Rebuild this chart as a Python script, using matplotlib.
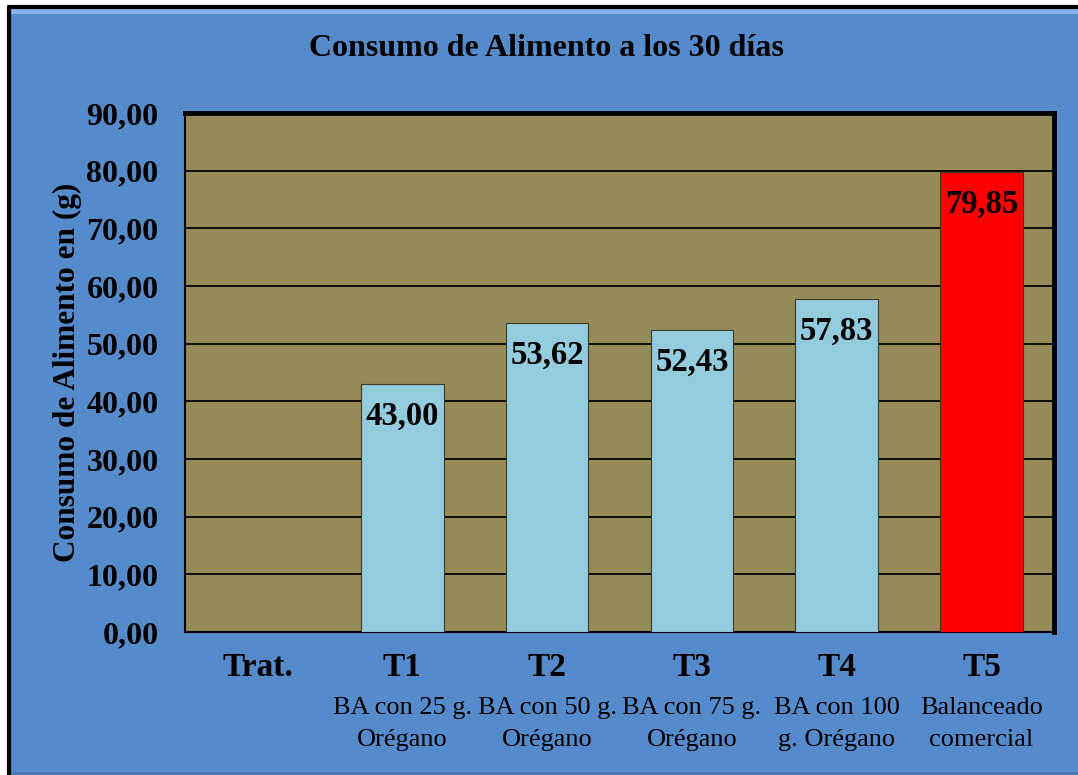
import matplotlib
matplotlib.use("Agg")
import matplotlib.pyplot as plt
from matplotlib.patches import Rectangle
import matplotlib.transforms as mtransforms

# data
categorias = ["Trat.", "T1", "T2", "T3", "T4", "T5"]
descripciones = ["", "BA con 25 g.\nOrégano", "BA con 50 g.\nOrégano",
                 "BA con 75 g.\nOrégano", "BA con 100\ng. Orégano",
                 "Balanceado\ncomercial"]
consumo = [None, 43.00, 53.62, 52.43, 57.83, 79.85]
colores = [None, "#93CDDD", "#93CDDD", "#93CDDD", "#93CDDD", "#FF0000"]
yticks = [0, 10, 20, 30, 40, 50, 60, 70, 80, 90]

plt.rcParams["font.family"] = ["Liberation Serif", "DejaVu Serif"]

W, H = 1078, 775
fig = plt.figure(figsize=(W / 100, H / 100), dpi=100)
fig.patch.set_facecolor("white")

# chart area background with black frame on top/left and a light bevel
fig.patches.append(Rectangle((7 / W, -0.01), 1.0, (H - 5) / H + 0.01, transform=fig.transFigure,
                             facecolor="#558ACB", edgecolor="none", zorder=-3))
fig.patches.append(Rectangle((10 / W, (H - 14) / H), 1.0, 5 / H, transform=fig.transFigure,
                             facecolor="#86B3EA", edgecolor="none", zorder=-2))
fig.patches.append(Rectangle((10 / W, 0), 1.0, 3 / H, transform=fig.transFigure,
                             facecolor="#4A78B4", edgecolor="none", zorder=-2))
fig.lines.append(plt.Line2D([8.5 / W, 8.5 / W, 1.0], [0, (H - 6.5) / H, (H - 6.5) / H],
                            transform=fig.transFigure, color="black", linewidth=3, zorder=-1))

ax = fig.add_axes([185 / W, (H - 632) / H, (1054 - 185) / W, (632 - 113) / H])
ax.set_zorder(5)
ax.set_facecolor("#968A56")

for i, (v, c) in enumerate(zip(consumo, colores)):
    if v is None:
        continue
    ax.bar(i, v, width=0.57, color=c, edgecolor="#3a3a2a", linewidth=0.8, zorder=3)
    ax.annotate(f"{v:.2f}".replace(".", ","), (i, v), xytext=(0, -23.5),
                textcoords="offset points", ha="center", va="center",
                fontsize=23.5, fontweight="bold", zorder=4)

ax.set_xlim(-0.5, len(categorias) - 0.5)
ax.set_ylim(0, 90)
ax.set_yticks(yticks)
ax.set_yticklabels([f"{t:.2f}".replace(".", ",") for t in yticks],
                   fontsize=23, fontweight="bold")
ax.tick_params(axis="y", length=0, pad=19)
ax.set_xticks([])
ax.yaxis.grid(True, color="black", linewidth=1.3, zorder=1)
ax.set_axisbelow(True)

for s in ["top", "right"]:
    ax.spines[s].set_linewidth(3.5)
for s in ["left", "bottom"]:
    ax.spines[s].set_linewidth(1.5)

trans = mtransforms.blended_transform_factory(ax.transData, ax.transAxes)
for i, (cat, desc) in enumerate(zip(categorias, descripciones)):
    ax.text(i, -36 / 519, cat, transform=trans, ha="center", va="center",
            fontsize=24, fontweight="bold")
    if desc:
        ax.text(i, -92 / 519, desc, transform=trans, ha="center", va="center",
                fontsize=19, linespacing=1.55)

ax.set_ylabel("Consumo de Alimento en (g)", fontsize=22.5, fontweight="bold", labelpad=3)
fig.text(546 / W, (H - 48) / H, "Consumo de Alimento a los 30 días", ha="center", va="center",
         fontsize=23, fontweight="bold")

fig.savefig("out.png", dpi=100, facecolor=fig.get_facecolor())
